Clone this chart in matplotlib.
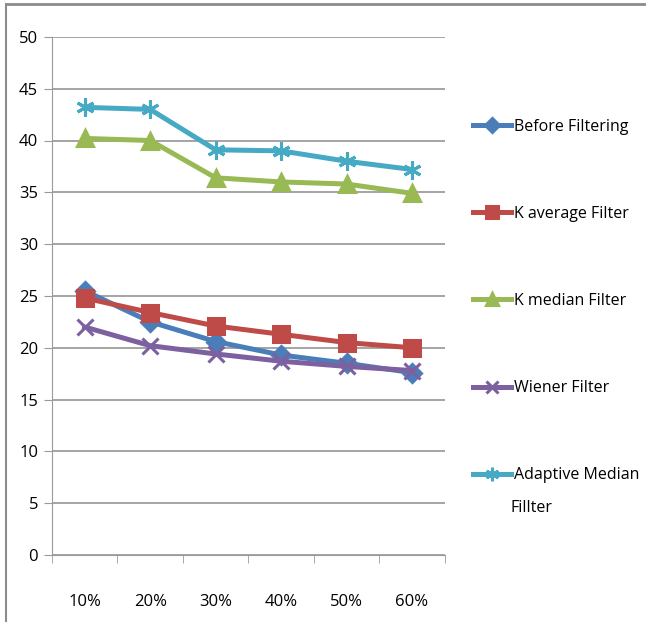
import matplotlib.pyplot as plt
from matplotlib.lines import Line2D

categories = ['10%', '20%', '30%', '40%', '50%', '60%']
before_filtering = [25.5, 22.5, 20.6, 19.3, 18.5, 17.6]
k_average = [24.8, 23.4, 22.1, 21.3, 20.5, 20.0]
k_median = [40.2, 40.0, 36.4, 36.0, 35.8, 34.9]
wiener = [22.0, 20.2, 19.4, 18.7, 18.2, 17.8]
adaptive_median = [43.2, 43.0, 39.1, 39.0, 38.0, 37.2]

plt.rcParams['font.family'] = ['Open Sans', 'DejaVu Sans']

fig = plt.figure(figsize=(6.46, 6.25), dpi=100)
ax = fig.add_axes([0.0805, 0.112, 0.608, 0.829])

x = list(range(len(categories)))
series = [
    (before_filtering, 'Before Filtering', '#4A7EBB', 'D', 9),
    (k_average, 'K average Filter', '#BE4B48', 's', 11),
    (k_median, 'K median Filter', '#98B954', '^', 11),
    (wiener, 'Wiener Filter', '#7D60A0', 'x', 11),
    (adaptive_median, 'Adaptive Median', '#46AAC5', (6, 2, 0), 13),
]
for vals, label, color, marker, ms in series:
    ax.plot(x, vals, color=color, lw=3.6, marker=marker, ms=ms,
            mew=2.2, mec=color, mfc=color, label=label, zorder=3)

ax.set_xlim(-0.5, 5.5)
ax.set_ylim(0, 50)
ax.set_yticks(range(0, 51, 5))
ax.set_xticks(x)
ax.set_xticklabels(categories)
ax.set_xticks([i - 0.5 for i in range(7)], minor=True)
ax.tick_params(axis='x', which='major', length=0, pad=28, labelsize=12)
ax.tick_params(axis='x', which='minor', length=6, color='#9A9A9A', direction='out')
ax.tick_params(axis='y', length=6, color='#9A9A9A', pad=4, labelsize=12)
ax.grid(axis='y', color='#8C8C8C', lw=1.1, zorder=0)
for side in ['top', 'right']:
    ax.spines[side].set_visible(False)
ax.spines['left'].set_color('#9A9A9A')
ax.spines['bottom'].set_color('#9A9A9A')

fig.legend(loc='upper left', bbox_to_anchor=(0.722, 0.82), frameon=False,
           fontsize=11.5, labelspacing=4.45, handlelength=2.4, handletextpad=0.15,
           borderaxespad=0, markerscale=0.75)
# second line of the last legend label
fig.text(0.791, 0.187, 'Fillter', fontsize=11.5, va='center', ha='left')

# outer frame (top and left edges)
fig.add_artist(Line2D([0.009, 1], [0.994, 0.994], color='#8C8C8C', lw=2, transform=fig.transFigure))
fig.add_artist(Line2D([0.009, 0.009], [0.006, 0.994], color='#8C8C8C', lw=1.5, transform=fig.transFigure))

fig.savefig('out.png', dpi=100)
